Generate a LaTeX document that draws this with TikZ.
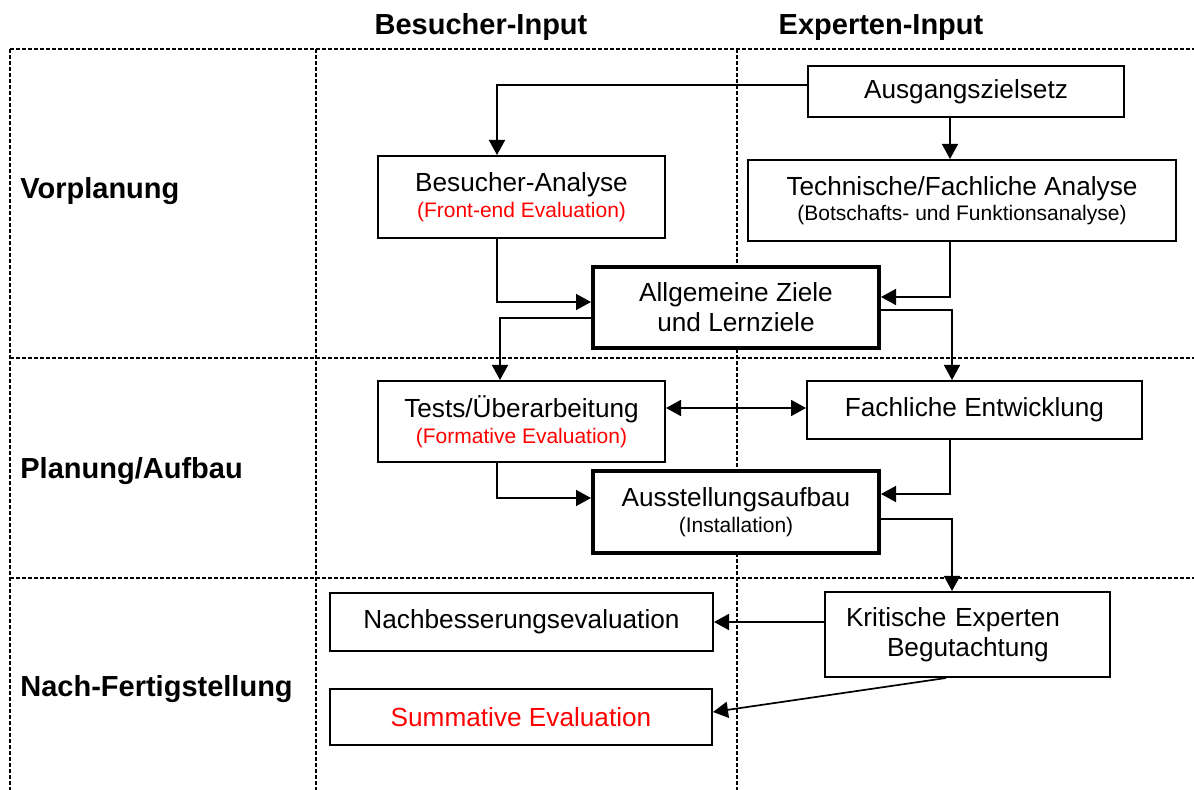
\documentclass[tikz,border=0pt]{standalone}
\usepackage{fontspec}
\setmainfont{Liberation Sans}
\usetikzlibrary{arrows.meta}
\definecolor{evred}{RGB}{255,0,0}
\newcommand\smtxt{\fontsize{10.5}{12}\selectfont}
\begin{document}
\begin{tikzpicture}[x=0.5pt,y=-0.5pt,
  grid/.style={line width=0.8pt, dash pattern=on 2pt off 1pt},
  box/.style={draw, line width=1pt, fill=white, inner sep=0pt, align=center, font=\fontsize{13.1}{12.75}\selectfont},
  thickbox/.style={box, line width=2pt},
  twoline/.style={font=\fontsize{13.1}{15}\selectfont},
  hdr/.style={font=\fontsize{14.5}{17}\selectfont\bfseries, inner sep=0pt},
  arr/.style={line width=0.85pt, -{Triangle[length=7.5pt,width=8pt]}},
  arrtwo/.style={line width=0.85pt, {Triangle[length=7.5pt,width=8pt]}-{Triangle[length=7.5pt,width=8pt]}}]
\useasboundingbox (0,0) rectangle (1194,790);
% grid
\draw[grid] (10,49) -- (1194,49);
\draw[grid] (10,358) -- (1194,358);
\draw[grid] (10,578) -- (1194,578);
\draw[grid] (10,49) -- (10,790);
\draw[grid] (316,49) -- (316,790);
\draw[grid] (737,49) -- (737,790);
% headers
\node[hdr, anchor=base] (h1) at (481,35) {Besucher-Input};
\node[hdr, anchor=base] (h2) at (881,35) {Experten-Input};
\node[hdr, anchor=base west] (r1) at (20,199) {Vorplanung};
\node[hdr, anchor=base west] (r2) at (20,479) {Planung/Aufbau};
\node[hdr, anchor=base west] (r3) at (20,697) {Nach-Fertigstellung};
% boxes
\node[box, minimum width=158pt, minimum height=25.5pt] (A) at (966,91.5) {Ausgangszielsetz};
\node[box, minimum width=143.5pt, minimum height=41pt] (B) at (521.5,197) {Besucher-Analyse\\{\smtxt\color{evred}(Front-end Evaluation)}};
\node[box, minimum width=214pt, minimum height=40.5pt] (T) at (962,200.5) {Technische/Fachliche Analyse\\{\smtxt(Botschafts- und Funktionsanalyse)}};
\node[thickbox, twoline, minimum width=143pt, minimum height=40.5pt] (Z) at (736,307.5) {Allgemeine Ziele\\und Lernziele};
\node[box, minimum width=143.5pt, minimum height=40.5pt] (Te) at (521.5,421.5) {Tests/Überarbeitung\\{\smtxt\color{evred}(Formative Evaluation)}};
\node[box, minimum width=167.5pt, minimum height=29pt] (F) at (974.5,410) {Fachliche Entwicklung};
\node[thickbox, minimum width=143pt, minimum height=41pt] (Au) at (736,512) {Ausstellungsaufbau\\{\smtxt(Installation)}};
\node[box, minimum width=191.5pt, minimum height=29pt] (N) at (521.5,622) {Nachbesserungsevaluation};
\node[box, minimum width=191pt, minimum height=28pt, text=evred] (S) at (521,717) {Summative Evaluation};
\node[box, twoline, align=left, text width=121.5pt, inner xsep=10.5pt, minimum height=42.5pt] (K) at (967.5,634.5) {Kritische Experten\\\hspace*{20.5pt}Begutachtung};
% connectors
\draw[arr] (A.west |- 0,85) -| (B.north -| 497,0);
\draw[arr] (A.south -| 950,0) -- (T.north -| 950,0);
\draw[arr] (B.south -| 497,0) |- (Z.west |- 0,302);
\draw[arr] (Z.west |- 0,318) -| (Te.north -| 500,0);
\draw[arr] (T.south -| 950,0) |- (Z.east |- 0,297);
\draw[arr] (Z.east |- 0,310) -| (F.north -| 952,0);
\draw[arrtwo] (Te.east |- 0,408) -- (F.west |- 0,408);
\draw[arr] (F.south -| 950,0) |- (Au.east |- 0,494);
\draw[arr] (Te.south -| 497,0) |- (Au.west |- 0,498);
\draw[arr] (Au.east |- 0,519) -| (K.north -| 952,0);
\draw[arr] (K.west |- 0,622) -- (N.east |- 0,622);
\draw[arr] (K.south -| 946,0) -- (S.east |- 0,712);
\end{tikzpicture}
\end{document}
